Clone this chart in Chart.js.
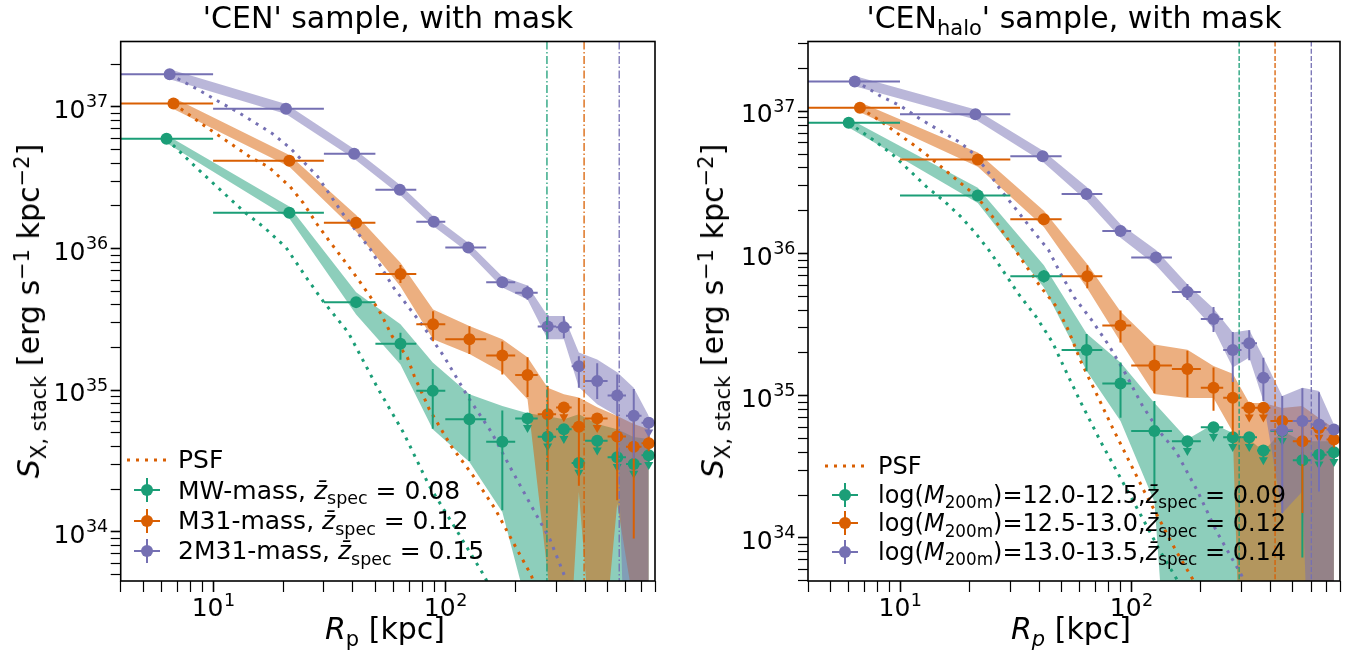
<!DOCTYPE html>
<html>
<head>
<meta charset="utf-8">
<script src="https://cdn.jsdelivr.net/npm/chart.js@4.4.0/dist/chart.umd.min.js"></script>
<style>
  body { margin: 0; background: #fff; }
  #wrap { position: relative; width: 1346px; height: 652px; font-family: "DejaVu Sans", sans-serif; color: #000; overflow: hidden; }
  canvas { position: absolute; top: 0; }
  #cL { left: 0; }
  #cR { left: 673px; }
  .t { position: absolute; white-space: nowrap; font-size: 30px; line-height: 1; }
  .ctr { transform: translateX(-50%); }
  .ylab { transform: translate(-50%, -50%) rotate(-90deg); }
  .sb { font-size: 70%; position: relative; top: 0.32em; }
  .sp { font-size: 70%; position: relative; top: -0.5em; }
  .leg { position: absolute; line-height: 1; }
  .row { display: flex; align-items: center; white-space: nowrap; }
  #legL { font-size: 25px; }
  #legL .row { height: 30.3px; }
  #legR { font-size: 24px; }
  #legR .row { height: 28.7px; }
  #legL svg { margin-right: 11px; flex: none; }
  #legR svg { margin-right: 13px; flex: none; }
</style>
</head>
<body>
<div id="wrap">
  <canvas id="cL" width="673" height="652"></canvas>
  <canvas id="cR" width="673" height="652"></canvas>

  <div class="t ctr" style="left:388px; top:3px;">'CEN' sample, with mask</div>
  <div class="t ctr" style="left:1074px; top:3px;">'CEN<span class="sb">halo</span>' sample, with mask</div>

  <div class="t ctr" style="left:385px; top:614px;"><i>R</i><span class="sb">p</span> [kpc]</div>
  <div class="t ctr" style="left:1071px; top:614px;"><i>R<span class="sb">p</span></i> [kpc]</div>

  <div class="t ylab" style="left:29px; top:311px;"><i>S</i><span class="sb">X, stack</span> [erg s<span class="sp">−1</span> kpc<span class="sp">−2</span>]</div>
  <div class="t ylab" style="left:713px; top:311px;"><i>S</i><span class="sb">X, stack</span> [erg s<span class="sp">−1</span> kpc<span class="sp">−2</span>]</div>

  <div class="leg" id="legL" style="left:127px; top:444.8px;"></div>
  <div class="leg" id="legR" style="left:825px; top:451.6px;"></div>
</div>

<script>
// radial bins (kpc), shared by all profiles
const binLo = [3, 10, 30, 50, 75, 100, 150, 200, 250, 300, 350, 400, 500, 600, 700];
const binHi = [10, 30, 50, 75, 100, 150, 200, 250, 300, 350, 400, 500, 600, 700, 800];

// axis ticks (decades get a 10^n label, the rest are minor)
const xMajor = [1, 10, 100];
const yMajor = [1e33, 1e34, 1e35, 1e36, 1e37];

// ---- left panel: 'CEN' sample ----
const cenMW_r = [6.3, 21.3, 41.3, 64.1, 88.3, 127, 176, 226, 276, 324, 376, 451, 550, 648, 752];
const cenMW_s = [5.96e36, 1.79e36, 4.19e35, 2.13e35, 9.9e34, 6.25e34, 4.33e34, 6.33e34, 4.69e34, 5.31e34, 3.06e34, 4.40e34, 3.37e34, 3.01e34, 3.48e34];
const cenMW_lo = [5.77e36, 1.70e36, 3.86e35, 1.64e35, 5.35e34, 3.16e34, 1.42e34, null, null, null, null, null, null, null, null];
const cenMW_hi = [6.16e36, 1.88e36, 4.55e35, 2.55e35, 1.41e35, 9.4e34, 7.2e34, null, null, null, null, null, null, null, null];
const cenMW_ul = [0, 0, 0, 0, 0, 0, 0, 1, 1, 1, 1, 1, 1, 1, 1];
const cenMW_bandHi = [6.35e36, 1.98e36, 4.92e35, 2.92e35, 1.57e35, 9.37e34, 7.75e34, 6.88e34, 6.56e34, 6.25e34, 6.78e34, 5.77e34, 5.31e34, 4.67e34, 4.52e34];
const cenMW_bandLo = [5.57e36, 1.63e36, 3.43e35, 1.52e35, 5.31e34, 3.11e34, 1.38e34, 2.89e33, 1e31, 1e31, 1e31, 1e31, 1e31, 1e31, 1e31];

const cenM31_r = [6.75, 21.3, 41.3, 64.1, 88.6, 127, 176, 226, 276, 324, 376, 451, 550, 648, 752];
const cenM31_s = [1.06e37, 4.17e36, 1.52e36, 6.61e35, 2.92e35, 2.29e35, 1.76e35, 1.28e35, 6.78e34, 7.55e34, 5.52e34, 6.33e34, 4.72e34, 3.99e34, 4.22e34];
const cenM31_lo = [1.01e37, 3.97e36, 1.45e36, 5.71e35, 2.22e35, 1.80e35, 1.29e35, 8.96e34, 2.69e34, null, 2.12e34, null, 1.67e34, 8.97e33, 3.71e34];
const cenM31_hi = [1.11e37, 4.38e36, 1.60e36, 7.65e35, 3.61e35, 2.83e35, 2.21e35, 1.71e35, 1.07e35, null, 8.83e34, null, 6.74e34, 6.6e34, 4.8e34];
const cenM31_ul = [0, 0, 0, 0, 0, 0, 0, 0, 0, 1, 0, 1, 0, 0, 0];
const cenM31_bandHi = [1.16e37, 4.59e36, 1.73e36, 7.96e35, 3.72e35, 2.84e35, 2.29e35, 1.71e35, 1.04e35, 9.37e34, 8.89e34, 7.59e34, 6.59e34, 5.77e34, 5.31e34];
const cenM31_bandLo = [9.68e36, 3.78e36, 1.32e36, 5.40e35, 2.29e35, 1.80e35, 1.34e35, 8.65e34, 5.06e33, 3e32, 1.91e34, 5e32, 1.58e34, 3e33, 1e31];

const cen2M31_r = [6.5, 20.6, 40.5, 63.7, 89.2, 125.6, 176, 226, 276, 324, 376, 451, 550, 648, 752];
const cen2M31_s = [1.70e37, 9.7e36, 4.67e36, 2.6e36, 1.55e36, 1.02e36, 5.79e35, 4.88e35, 2.82e35, 2.79e35, 1.48e35, 1.16e35, 9.2e34, 6.6e34, 5.9e34];
const cen2M31_lo = [1.62e37, 9.24e36, 4.45e36, 2.48e36, 1.48e36, 9.7e35, 5.51e35, 4.36e35, 2.30e35, 2.33e35, 1.04e35, 8.66e34, 6.54e34, 3.29e34, null];
const cen2M31_hi = [1.79e37, 1.02e37, 4.9e36, 2.73e36, 1.63e36, 1.07e36, 6.08e35, 5.47e35, 3.39e35, 3.33e35, 1.74e35, 1.55e35, 1.29e35, 1.02e35, null];
const cen2M31_ul = [0, 0, 0, 0, 0, 0, 0, 0, 0, 0, 0, 0, 0, 0, 1];
const cen2M31_bandHi = [1.85e37, 1.05e37, 5.06e36, 2.82e36, 1.68e36, 1.10e36, 6.35e35, 5.49e35, 3.34e35, 3.34e35, 1.85e35, 1.65e35, 1.34e35, 1.04e35, 6.59e34];
const cen2M31_bandLo = [1.57e37, 8.93e36, 4.31e36, 2.40e36, 1.43e36, 9.38e35, 5.31e35, 4.38e35, 2.29e35, 2.29e35, 1.05e35, 7.96e34, 6.59e34, 1e31, 1e31];

// PSF profiles scaled to the innermost bin
const cenPsfMW_r = [6.3, 8.4, 10.4, 13.6, 16.6, 20.6, 25.2, 29.8, 38.2, 51.4, 65.9, 85.3, 109, 147, 173];
const cenPsfMW_s = [5.96e36, 3.78e36, 2.73e36, 1.82e36, 1.41e36, 1.02e36, 6.25e35, 4.24e35, 2.56e35, 1.02e35, 5.06e34, 2.11e34, 1.10e34, 4.9e33, 2.87e33];
const cenPsfM31_r = [6.75, 9.33, 11.6, 14.4, 17.3, 21.5, 24.4, 28.1, 31.3, 35.6, 41.3, 47.5, 53.0, 59.1, 68.6, 73.5, 85.3, 106, 132, 164, 189, 235, 260];
const cenPsfM31_s = [1.06e37, 7.23e36, 5.67e36, 4.45e36, 3.78e36, 2.73e36, 2.11e36, 1.48e36, 1.16e36, 8.79e35, 6.35e35, 4.59e35, 3.43e35, 2.40e35, 1.71e35, 1.26e35, 7.35e34, 4.03e34, 2.48e34, 1.45e34, 9.4e33, 4.9e33, 3e33];
const cenPsf2M31_r = [6.5, 8.67, 10.8, 12.7, 14.9, 17.9, 21.5, 28.2, 35.6, 47.7, 59.3, 79.2, 98.5, 127, 158, 189, 235, 282, 326, 350];
const cenPsf2M31_s = [1.70e37, 1.32e37, 1.07e37, 9.27e36, 7.88e36, 6.53e36, 5.12e36, 3.23e36, 1.83e36, 9.84e35, 5.42e35, 2.92e35, 1.74e35, 8.65e34, 5.06e34, 2.92e34, 1.52e34, 8.9e33, 4.9e33, 3.5e33];

const cenR200 = [274, 396, 561];

// ---- right panel: 'CEN_halo' sample ----
const haloA_r = [6.0, 21.7, 41.9, 64.1, 89.9, 126, 175, 227, 275, 324, 373, 450, 550, 649, 753];
const haloA_s = [8.32e36, 2.56e36, 6.92e35, 2.10e35, 1.22e35, 5.64e34, 4.79e34, 6.01e34, 5.11e34, 5.11e34, 4.12e34, 5.64e34, 3.52e34, 3.85e34, 4.0e34];
const haloA_lo = [8.05e36, 2.44e36, 6.27e35, 1.49e35, 7.0e34, 2.18e34, null, null, null, null, null, null, 7.3e33, null, null];
const haloA_hi = [8.6e36, 2.69e36, 7.63e35, 2.72e35, 1.71e35, 9.2e34, null, null, null, null, null, null, 4.04e34, null, null];
const haloA_ul = [0, 0, 0, 0, 0, 0, 1, 1, 1, 1, 1, 1, 0, 1, 1];
const haloA_bandHi = [8.92e36, 2.90e36, 8.28e35, 2.74e35, 1.71e35, 8.89e34, 4.95e34, 6.33e34, 5.46e34, 4.95e34, 4.07e34, 5.64e34, 4.79e34, 4.79e34, 4.79e34];
const haloA_bandLo = [7.71e36, 2.27e36, 5.78e35, 1.50e35, 6.64e34, 1.80e34, 1e31, 1e31, 1e31, 1e31, 1e31, 1e31, 1e31, 1e31, 1e31];

const haloB_r = [6.71, 21.7, 41.9, 64.6, 89.9, 126, 175, 227, 275, 324, 373, 450, 550, 649, 753];
const haloB_s = [1.06e37, 4.58e36, 1.74e36, 6.92e35, 3.12e35, 1.63e35, 1.54e35, 1.14e35, 9.7e34, 8.25e34, 8.25e34, 6.64e34, 4.79e34, 5.94e34, 4.92e34];
const haloB_lo = [1.01e37, 4.36e36, 1.66e36, 5.7e35, 2.37e35, 1.04e35, 9.8e34, 7.84e34, 5.3e34, null, null, null, 1.5e34, null, 4.32e34];
const haloB_hi = [1.11e37, 4.81e36, 1.83e36, 8.27e35, 3.98e35, 2.25e35, 2.07e35, 1.58e35, 1.34e35, null, null, null, 7.0e34, null, 5.6e34];
const haloB_ul = [0, 0, 0, 0, 0, 0, 0, 0, 0, 1, 1, 1, 0, 1, 0];
const haloB_bandHi = [1.16e37, 5.13e36, 2.0e36, 8.41e35, 3.92e35, 2.29e35, 2.11e35, 1.62e35, 1.43e35, 8.89e34, 8.89e34, 8.20e34, 8.47e34, 6.97e34, 5.92e34];
const haloB_bandLo = [9.84e36, 4.08e36, 1.54e36, 5.69e35, 2.40e35, 1.03e35, 9.65e34, 9.65e34, 5.55e34, 1e31, 1e31, 1e31, 1e31, 1e31, 1e31];

const haloC_r = [6.37, 21.2, 41.4, 64.1, 89.9, 128, 175, 227, 275, 324, 373, 450, 550, 649, 753];
const haloC_s = [1.62e37, 9.53e36, 4.83e36, 2.62e36, 1.44e36, 9.38e35, 5.36e35, 3.47e35, 2.10e35, 2.34e35, 1.34e35, 5.73e34, 6.64e34, 6.28e34, 5.79e34];
const haloC_lo = [1.54e37, 9.08e36, 4.6e36, 2.5e36, 1.37e36, 8.93e35, 4.71e35, 2.81e35, 1.25e35, 1.78e35, 9.2e34, 1.49e34, 3.30e34, 2.12e34, 5.34e34];
const haloC_hi = [1.70e37, 1.0e37, 5.07e36, 2.75e36, 1.51e36, 9.85e35, 6.1e35, 4.21e35, 2.81e35, 2.89e35, 1.85e35, 9.96e34, 1.13e35, 1.06e35, 6.28e34];
const haloC_ul = [0, 0, 0, 0, 0, 0, 0, 0, 0, 0, 0, 0, 0, 0, 0];
const haloC_bandHi = [1.77e37, 1.03e37, 5.30e36, 2.95e36, 1.61e36, 1.06e36, 6.08e35, 4.11e35, 2.79e35, 2.90e35, 1.86e35, 9.98e34, 1.14e35, 1.08e35, 6.28e34];
const haloC_bandLo = [1.50e37, 8.78e36, 4.43e36, 2.35e36, 1.29e36, 8.28e35, 4.76e35, 2.97e35, 1.58e35, 1.86e35, 9.19e34, 1.49e34, 2.12e34, 1e31, 1e31];

const haloPsfA_r = [6.0, 7.62, 9.30, 10.9, 13.0, 15.6, 18.3, 21.0, 24.2, 27.8, 32.5, 38.9, 45.7, 51.3, 60.1, 73.6, 89.9, 110, 134, 157, 177];
const haloPsfA_s = [8.32e36, 6.34e36, 4.97e36, 3.89e36, 2.96e36, 2.32e36, 1.82e36, 1.42e36, 1.06e36, 7.64e35, 5.22e35, 3.57e35, 2.37e35, 1.58e35, 9.19e34, 4.79e34, 2.64e34, 1.45e34, 7.98e33, 5.17e33, 3.54e33];
const haloPsfB_r = [6.71, 8.25, 9.68, 11.4, 13.3, 15.6, 18.3, 21.5, 25.1, 29.5, 34.5, 40.6, 47.4, 53.6, 60.4, 70.8, 83.1, 97.3, 114, 134, 157, 184, 206];
const haloPsfB_s = [1.06e37, 8.53e36, 7.06e36, 5.84e36, 4.83e36, 3.89e36, 3.13e36, 2.52e36, 1.82e36, 1.24e36, 8.51e35, 5.82e35, 4.25e35, 2.87e35, 1.76e35, 1.03e35, 5.94e34, 3.55e34, 2.12e34, 1.30e34, 8.0e33, 5.17e33, 3.54e33];
const haloPsfC_r = [6.37, 7.18, 8.25, 10.07, 12.3, 15.0, 18.3, 20.6, 23.7, 27.2, 31.9, 37.4, 43.9, 49.5, 56.7, 67.7, 80.2, 94.0, 112, 132, 156, 194, 234, 300, 337];
const haloPsfC_s = [1.62e37, 1.47e37, 1.28e37, 1.09e37, 8.78e36, 7.26e36, 6.01e36, 5.11e36, 3.89e36, 2.81e36, 2.03e36, 1.46e36, 1.06e36, 7.23e35, 4.92e35, 3.38e35, 2.25e35, 1.45e35, 8.47e34, 5.64e34, 4.07e34, 2.12e34, 1.11e34, 5.47e33, 3.54e33];

const haloR200 = [293, 419, 601];

const colors = ["#1b9e77", "#d95f02", "#7570b3"];
const bandColors = ["rgba(27,158,119,0.5)", "rgba(217,95,2,0.5)", "rgba(117,112,179,0.5)"];

const legendLeft = [
  "MW-mass, <i>z̄</i><span class='sb'>spec</span> = 0.08",
  "M31-mass, <i>z̄</i><span class='sb'>spec</span> = 0.12",
  "2M31-mass, <i>z̄</i><span class='sb'>spec</span> = 0.15",
];
const legendRight = [
  "log(<i>M</i><span class='sb'>200m</span>)=12.0-12.5,<i>z̄</i><span class='sb'>spec</span> = 0.09",
  "log(<i>M</i><span class='sb'>200m</span>)=12.5-13.0,<i>z̄</i><span class='sb'>spec</span> = 0.12",
  "log(<i>M</i><span class='sb'>200m</span>)=13.0-13.5,<i>z̄</i><span class='sb'>spec</span> = 0.14",
];

const arrowFactor = 0.8; // upper-limit arrow length, in data units
const FONT = "DejaVu Sans";

function pts(xs, ys) {
  return xs.map((x, i) => ({ x: x, y: ys[i] }));
}

function logTicks(majors, min, max) {
  const out = [];
  majors.forEach((m) => {
    for (let k = 1; k < 10; k++) {
      const v = m * k;
      if (v >= min * 0.9999 && v <= max * 1.0001) out.push({ value: v, major: k === 1 });
    }
  });
  return out;
}

// "10" plus a raised exponent, like matplotlib's log tick labels
function drawDecade(ctx, v, x, base, align) {
  const e = String(Math.round(Math.log10(v)));
  ctx.font = "25px " + FONT;
  const w1 = ctx.measureText("10").width;
  ctx.font = "17.5px " + FONT;
  const w2 = ctx.measureText(e).width;
  const x0 = align === "center" ? x - (w1 + w2) / 2 : x - (w1 + w2);
  ctx.font = "25px " + FONT;
  ctx.fillText("10", x0, base);
  ctx.font = "17.5px " + FONT;
  ctx.fillText(e, x0 + w1 + 0.5, base - 10.5);
}

// error bars + upper-limit carets, drawn just before each marker dataset
const errorBars = {
  id: "errorBars",
  beforeDatasetDraw(chart, args) {
    const ds = chart.data.datasets[args.index];
    if (!ds.err) return;
    const xs = chart.scales.x, ys = chart.scales.y, a = chart.chartArea;
    const ctx = chart.ctx;
    const e = ds.err;
    ctx.save();
    ctx.beginPath();
    ctx.rect(a.left, a.top, a.right - a.left, a.bottom - a.top);
    ctx.clip();
    ctx.strokeStyle = ds.pointBackgroundColor;
    ctx.fillStyle = ds.pointBackgroundColor;
    ctx.lineWidth = 2;
    e.r.forEach((r, i) => {
      const px = xs.getPixelForValue(r);
      const py = ys.getPixelForValue(e.s[i]);
      ctx.beginPath();
      ctx.moveTo(xs.getPixelForValue(binLo[i]), py);
      ctx.lineTo(xs.getPixelForValue(binHi[i]), py);
      if (e.ul[i]) {
        const pa = ys.getPixelForValue(e.s[i] * arrowFactor);
        ctx.moveTo(px, py);
        ctx.lineTo(px, pa - 4);
        ctx.stroke();
        ctx.beginPath();
        ctx.moveTo(px - 4.5, pa - 7);
        ctx.lineTo(px + 4.5, pa - 7);
        ctx.lineTo(px, pa + 1);
        ctx.closePath();
        ctx.fill();
      } else {
        if (e.lo[i] != null) {
          ctx.moveTo(px, ys.getPixelForValue(e.lo[i]));
          ctx.lineTo(px, ys.getPixelForValue(e.hi[i]));
        }
        ctx.stroke();
      }
    });
    ctx.restore();
  },
};

// R200m markers, the axes frame and the decade labels
const frameAndLines = {
  id: "frameAndLines",
  afterDatasetsDraw(chart) {
    const o = chart.options.plugins.frameAndLines;
    const xs = chart.scales.x, ys = chart.scales.y, a = chart.chartArea, ctx = chart.ctx;
    ctx.save();
    ctx.lineWidth = 1.3;
    ctx.setLineDash(o.dash);
    o.lines.forEach((r, k) => {
      const px = xs.getPixelForValue(r);
      ctx.strokeStyle = colors[k];
      ctx.beginPath();
      ctx.moveTo(px, a.top);
      ctx.lineTo(px, a.bottom);
      ctx.stroke();
    });
    ctx.setLineDash([]);
    ctx.strokeStyle = "#000";
    ctx.lineWidth = 1.6;
    ctx.strokeRect(a.left, a.top, a.right - a.left, a.bottom - a.top);

    ctx.fillStyle = "#000";
    ctx.textBaseline = "alphabetic";
    ctx.textAlign = "left";
    xs.ticks.forEach((t) => {
      if (t.major) drawDecade(ctx, t.value, xs.getPixelForValue(t.value), a.bottom + 35, "center");
    });
    ys.ticks.forEach((t) => {
      if (t.major) drawDecade(ctx, t.value, a.left - 13, ys.getPixelForValue(t.value) + 11, "right");
    });
    ctx.restore();
  },
};

function makePanel(id, p) {
  const datasets = [];
  p.series.forEach((s, k) => {
    datasets.push({ data: pts(s.r, s.bandHi), borderWidth: 0, pointRadius: 0, fill: false, order: 40 });
    datasets.push({ data: pts(s.r, s.bandLo), borderWidth: 0, pointRadius: 0, fill: "-1", backgroundColor: bandColors[k], order: 30 - k });
  });
  p.series.forEach((s, k) => {
    datasets.push({
      data: pts(s.psfR, s.psfS), borderColor: colors[k], borderWidth: 3, borderDash: [3, 6],
      borderCapStyle: "butt", pointRadius: 0, fill: false, tension: 0, order: 20 - k,
    });
  });
  p.series.forEach((s, k) => {
    datasets.push({
      data: pts(s.r, s.s), showLine: false, pointRadius: 6, pointBorderWidth: 0,
      pointBackgroundColor: colors[k], borderColor: colors[k], order: 10 - k,
      err: { r: s.r, s: s.s, lo: s.lo, hi: s.hi, ul: s.ul },
    });
  });

  const tickW = (c) => (c.tick && c.tick.major ? 1.6 : 1.2);
  return new Chart(document.getElementById(id), {
    type: "line",
    data: { datasets: datasets },
    options: {
      responsive: false,
      animation: false,
      events: [],
      devicePixelRatio: 1,
      layout: { padding: { top: 41.5, right: p.padRight, left: 0, bottom: 0 } },
      plugins: { legend: { display: false }, tooltip: { enabled: false }, frameAndLines: { lines: p.lines, dash: p.dash } },
      scales: {
        x: {
          type: "logarithmic", min: 4, max: 800,
          afterBuildTicks: (sc) => { sc.ticks = logTicks(xMajor, 4, 800); },
          afterFit: (sc) => { sc.height = 71; },
          ticks: { autoSkip: false, maxRotation: 0, callback: () => "" },
          grid: { drawOnChartArea: false, drawTicks: true, tickLength: 11, color: "#000", tickWidth: tickW },
          border: { display: false },
        },
        y: {
          type: "logarithmic", min: p.yMin, max: p.yMax,
          afterBuildTicks: (sc) => { sc.ticks = logTicks(yMajor, p.yMin, p.yMax); },
          afterFit: (sc) => { sc.width = p.yWidth; },
          ticks: { autoSkip: false, callback: () => "" },
          grid: { drawOnChartArea: false, drawTicks: true, tickLength: 10, color: "#000", tickWidth: tickW },
          border: { display: false },
        },
      },
    },
    plugins: [errorBars, frameAndLines],
  });
}

makePanel("cL", {
  yMin: 4.5e33, yMax: 2.9e37, yWidth: 120.7, padRight: 18, lines: cenR200, dash: [8, 2.5, 1.5, 2.5],
  series: [
    { r: cenMW_r, s: cenMW_s, lo: cenMW_lo, hi: cenMW_hi, ul: cenMW_ul, bandHi: cenMW_bandHi, bandLo: cenMW_bandLo, psfR: cenPsfMW_r, psfS: cenPsfMW_s },
    { r: cenM31_r, s: cenM31_s, lo: cenM31_lo, hi: cenM31_hi, ul: cenM31_ul, bandHi: cenM31_bandHi, bandLo: cenM31_bandLo, psfR: cenPsfM31_r, psfS: cenPsfM31_s },
    { r: cen2M31_r, s: cen2M31_s, lo: cen2M31_lo, hi: cen2M31_hi, ul: cen2M31_ul, bandHi: cen2M31_bandHi, bandLo: cen2M31_bandLo, psfR: cenPsf2M31_r, psfS: cenPsf2M31_s },
  ],
});

makePanel("cR", {
  yMin: 4.98e33, yMax: 3.1e37, yWidth: 135, padRight: 5, lines: haloR200, dash: [5, 2.2],
  series: [
    { r: haloA_r, s: haloA_s, lo: haloA_lo, hi: haloA_hi, ul: haloA_ul, bandHi: haloA_bandHi, bandLo: haloA_bandLo, psfR: haloPsfA_r, psfS: haloPsfA_s },
    { r: haloB_r, s: haloB_s, lo: haloB_lo, hi: haloB_hi, ul: haloB_ul, bandHi: haloB_bandHi, bandLo: haloB_bandLo, psfR: haloPsfB_r, psfS: haloPsfB_s },
    { r: haloC_r, s: haloC_s, lo: haloC_lo, hi: haloC_hi, ul: haloC_ul, bandHi: haloC_bandHi, bandLo: haloC_bandLo, psfR: haloPsfC_r, psfS: haloPsfC_s },
  ],
});

// legends (HTML so the sub/superscripts stay real text)
function handleSvg(k, psf) {
  if (psf) {
    return '<svg width="40" height="24"><line x1="0" y1="12" x2="40" y2="12" stroke="' + colors[1] +
      '" stroke-width="3" stroke-dasharray="3 6"/></svg>';
  }
  const c = colors[k];
  return '<svg width="40" height="24"><line x1="7" y1="12" x2="33" y2="12" stroke="' + c + '" stroke-width="2"/>' +
    '<line x1="20" y1="0" x2="20" y2="24" stroke="' + c + '" stroke-width="2"/>' +
    '<circle cx="20" cy="12" r="6" fill="' + c + '"/></svg>';
}
function buildLegend(id, labels) {
  let html = '<div class="row">' + handleSvg(1, true) + "<span>PSF</span></div>";
  labels.forEach((t, k) => {
    html += '<div class="row">' + handleSvg(k, false) + "<span>" + t + "</span></div>";
  });
  document.getElementById(id).innerHTML = html;
}
buildLegend("legL", legendLeft);
buildLegend("legR", legendRight);
</script>
</body>
</html>
